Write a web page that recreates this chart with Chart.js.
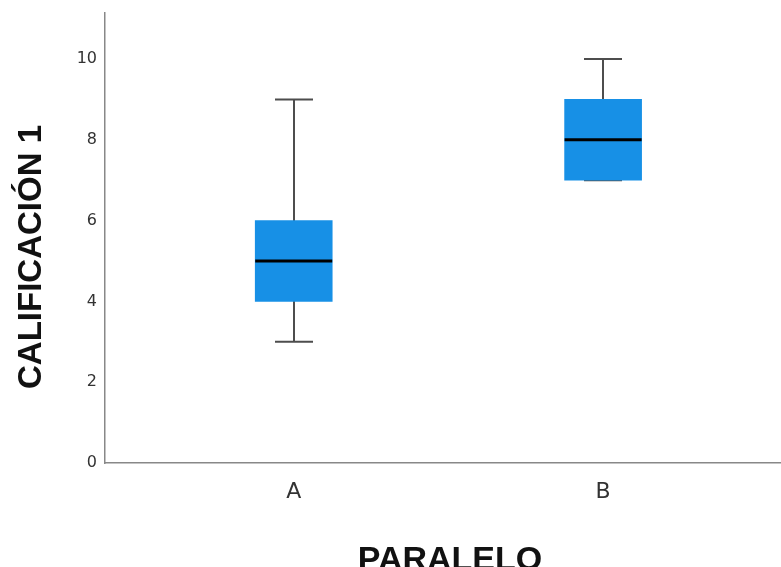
<!DOCTYPE html>
<html>
<head>
<meta charset="utf-8">
<script src="https://cdn.jsdelivr.net/npm/chart.js@4.4.1/dist/chart.umd.min.js"></script>
<style>
  html, body { margin: 0; padding: 0; background: #fff; }
</style>
</head>
<body>
<canvas id="myChart" width="781" height="567"></canvas>
<script>
// datos
const paralelos = ['A', 'B'];
const minimos = [3, 7];
const q1 = [4, 7];
const medianas = [5, 8];
const q3 = [6, 9];
const maximos = [9, 10];
const yTicks = [0, 2, 4, 6, 8, 10];
const tituloY = 'CALIFICACIÓN 1';
const tituloX = 'PARALELO';

const cajas = paralelos.map((p, i) => ({ x: i, y: [q1[i], q3[i]] }));

// bigotes, mediana y titulos de los ejes
const boxPlugin = {
    id: 'bigotes',
    beforeDatasetsDraw(chart) {
        const ctx = chart.ctx;
        const xs = chart.scales.x, ys = chart.scales.y;
        ctx.save();
        ctx.strokeStyle = '#4d4d4d';
        ctx.lineWidth = 2;
        for (let i = 0; i < paralelos.length; i++) {
            const cx = Math.round(xs.getPixelForValue(i));
            const yMin = ys.getPixelForValue(minimos[i]);
            const yMax = ys.getPixelForValue(maximos[i]);
            ctx.beginPath();
            ctx.moveTo(cx, yMin);
            ctx.lineTo(cx, yMax);
            ctx.moveTo(cx - 19, yMin);
            ctx.lineTo(cx + 19, yMin);
            ctx.moveTo(cx - 19, yMax);
            ctx.lineTo(cx + 19, yMax);
            ctx.stroke();
        }
        ctx.restore();
    },
    afterDatasetsDraw(chart) {
        const ctx = chart.ctx;
        const xs = chart.scales.x, ys = chart.scales.y;
        ctx.save();
        ctx.strokeStyle = '#000';
        ctx.lineWidth = 3;
        for (let i = 0; i < paralelos.length; i++) {
            const cx = xs.getPixelForValue(i);
            const ym = ys.getPixelForValue(medianas[i]);
            ctx.beginPath();
            ctx.moveTo(cx - 38.5, ym);
            ctx.lineTo(cx + 38.5, ym);
            ctx.stroke();
        }
        ctx.restore();

        ctx.save();
        ctx.fillStyle = '#111';
        ctx.font = 'bold 34px "Liberation Sans", Arial';
        ctx.textAlign = 'center';
        ctx.textBaseline = 'alphabetic';
        ctx.fillText(tituloX, 450, 570);
        ctx.translate(32, 257);
        ctx.rotate(-Math.PI / 2);
        ctx.font = 'bold 33px "Liberation Sans", Arial';
        ctx.textBaseline = 'middle';
        ctx.fillText(tituloY, 0, 0);
        ctx.restore();
    }
};

const config = {
    type: 'bar',
    data: {
        datasets: [{
            label: tituloY,
            data: cajas,
            backgroundColor: '#1790e6',
            borderWidth: 0,
            barThickness: 77,
            borderSkipped: false
        }]
    },
    options: {
        responsive: false,
        animation: false,
        layout: { padding: { top: 13, right: 0, left: 0, bottom: 0 } },
        plugins: {
            legend: { display: false },
            tooltip: { enabled: false }
        },
        scales: {
            x: {
                type: 'linear',
                offset: false,
                min: -0.61,
                max: 1.575,
                grid: { display: false, drawTicks: false },
                border: { display: true, color: '#888', width: 1.5 },
                afterBuildTicks: s => { s.ticks = paralelos.map((p, i) => ({ value: i })); },
                afterFit: s => { s.height = 104; s.paddingLeft = 0; s.paddingRight = 0; },
                ticks: {
                    padding: 16,
                    color: '#333',
                    font: { family: 'DejaVu Sans', size: 22 },
                    callback: v => paralelos[v]
                }
            },
            y: {
                min: 0,
                max: 11.14,
                grid: { display: false, drawTicks: false },
                border: { display: true, color: '#888', width: 1.5 },
                afterBuildTicks: s => { s.ticks = yTicks.map(v => ({ value: v })); },
                afterFit: s => { s.width = 105; s.paddingTop = 0; s.paddingBottom = 0; },
                ticks: {
                    padding: 8,
                    color: '#333',
                    font: { family: 'DejaVu Sans', size: 16 }
                }
            }
        }
    },
    plugins: [boxPlugin]
};

const myChart = new Chart(
    document.getElementById('myChart'),
    config
);
</script>
</body>
</html>
